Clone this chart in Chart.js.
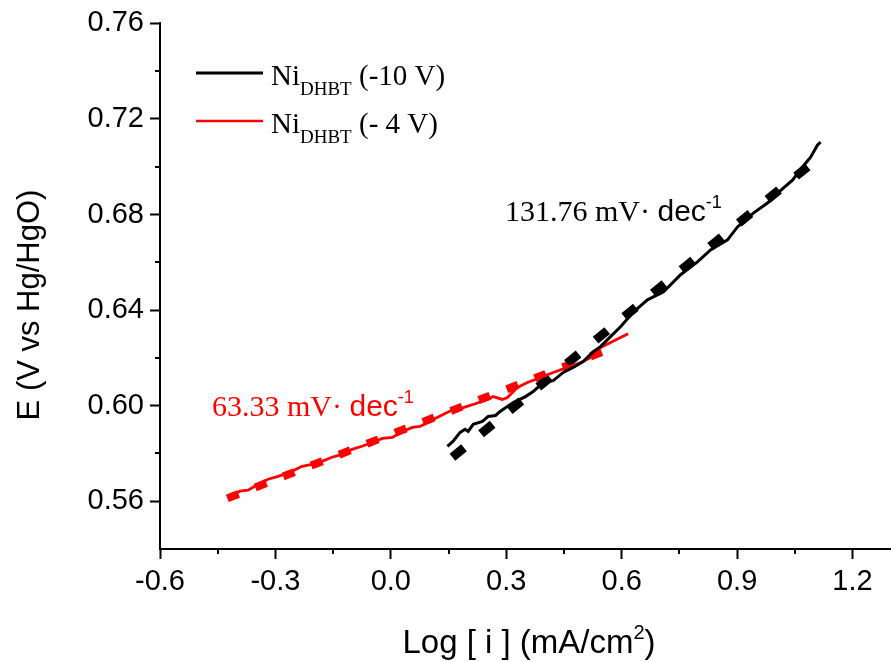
<!DOCTYPE html>
<html>
<head>
<meta charset="utf-8">
<script src="https://cdn.jsdelivr.net/npm/chart.js@4/dist/chart.umd.min.js"></script>
<style>
  html, body { margin: 0; padding: 0; background: #fff; }
  #wrap { width: 891px; height: 662px; }
</style>
</head>
<body>
<div id="wrap"><canvas id="tafel" width="891" height="662"></canvas></div>
<script>
// Ni DHBT (-10 V) polarisation curve
var blackLogI = [0.147, 0.162, 0.180, 0.193, 0.201, 0.214, 0.238, 0.253, 0.272, 0.284,
                 0.318, 0.350, 0.370, 0.396, 0.422, 0.448, 0.474, 0.500, 0.526, 0.545,
                 0.571, 0.597, 0.631, 0.667, 0.709, 0.753, 0.797, 0.831, 0.875, 0.901,
                 0.943, 0.979, 1.008, 1.044, 1.070, 1.091, 1.109, 1.117];
var blackE = [0.5830, 0.5851, 0.5888, 0.5901, 0.5892, 0.5922, 0.5934, 0.5955, 0.5959, 0.5976,
              0.6013, 0.6038, 0.6059, 0.6097, 0.6105, 0.6139, 0.6160, 0.6185, 0.6226, 0.6247,
              0.6289, 0.6330, 0.6393, 0.6443, 0.6477, 0.6548, 0.6602, 0.6652, 0.6694, 0.6748,
              0.6807, 0.6848, 0.6894, 0.6944, 0.6999, 0.7040, 0.7091, 0.7103];

// Ni DHBT (- 4 V)
var redLogI = [-0.418, -0.392, -0.371, -0.345, -0.319, -0.293, -0.257, -0.231, -0.205, -0.179,
               -0.153, -0.127, -0.101, -0.075, -0.048, -0.022, 0.004, 0.030, 0.056, 0.076,
               0.110, 0.136, 0.162, 0.188, 0.214, 0.251, 0.266, 0.290, 0.303, 0.329,
               0.355, 0.389, 0.422, 0.459, 0.493, 0.519, 0.545, 0.571, 0.597, 0.617];
var redE = [0.5621, 0.5642, 0.5646, 0.5671, 0.5692, 0.5704, 0.5725, 0.5746, 0.5754, 0.5767,
            0.5784, 0.5796, 0.5817, 0.5830, 0.5846, 0.5863, 0.5867, 0.5892, 0.5909, 0.5913,
            0.5942, 0.5963, 0.5984, 0.5992, 0.6005, 0.6026, 0.6038, 0.6026, 0.6034, 0.6076,
            0.6097, 0.6118, 0.6139, 0.6160, 0.6180, 0.6201, 0.6243, 0.6264, 0.6285, 0.6301];

// Tafel fit lines (end points)
var blackFitLogI = [0.160, 1.115];
var blackFitE = [0.5784, 0.7042];
var redFitLogI = [-0.425, 0.565];
var redFitE = [0.5612, 0.6235];

// axes
var xMin = -0.6, xMax = 1.3, xStep = 0.3;
var yMin = 0.54, yMax = 0.76, yStep = 0.04;
var xMinorTicks = [-0.45, -0.15, 0.15, 0.45, 0.75, 1.05];
var yMinorTicks = [0.58, 0.62, 0.66, 0.70, 0.74];

var legendNames = [['Ni', 'DHBT', ' (-10 V)'], ['Ni', 'DHBT', ' (- 4 V)']];
var slopeLabels = ['131.76', '63.33'];

function pts(xs, ys) {
    var out = [];
    for (var i = 0; i < xs.length; i++) out.push({ x: xs[i], y: ys[i] });
    return out;
}

var SERIF = "'Liberation Serif', 'Times New Roman', serif";
var SANS = "'Liberation Sans', Arial, sans-serif";

// draws a row of text pieces one after another, each with its own font and shift
function drawRuns(ctx, x, y, runs, color) {
    ctx.save();
    ctx.fillStyle = color;
    ctx.textBaseline = 'alphabetic';
    ctx.textAlign = 'left';
    runs.forEach(function (r) {
        ctx.font = r.font;
        ctx.fillText(r.text, x, y + (r.dy || 0));
        x += ctx.measureText(r.text).width;
    });
    ctx.restore();
}

function runsWidth(ctx, runs) {
    var w = 0;
    ctx.save();
    runs.forEach(function (r) { ctx.font = r.font; w += ctx.measureText(r.text).width; });
    ctx.restore();
    return w;
}

var extrasPlugin = {
    id: 'extras',
    afterDraw: function (chart) {
        var ctx = chart.ctx;
        var xs = chart.scales.x, ys = chart.scales.y;
        var area = chart.chartArea;

        // minor ticks
        ctx.save();
        ctx.strokeStyle = '#000';
        ctx.lineWidth = 2;
        ctx.beginPath();
        xMinorTicks.forEach(function (v) {
            var px = Math.round(xs.getPixelForValue(v));
            ctx.moveTo(px, area.bottom);
            ctx.lineTo(px, area.bottom + 5);
        });
        yMinorTicks.forEach(function (v) {
            var py = Math.round(ys.getPixelForValue(v));
            ctx.moveTo(area.left, py);
            ctx.lineTo(area.left - 5, py);
        });
        ctx.stroke();
        ctx.restore();

        // axis titles
        var xt = [
            { text: 'Log [ i ] (mA/cm', font: '33px ' + SANS },
            { text: '2', font: '20px ' + SANS, dy: -14 },
            { text: ')', font: '33px ' + SANS }
        ];
        drawRuns(ctx, 529 - runsWidth(ctx, xt) / 2, 653, xt, '#000');

        ctx.save();
        ctx.translate(39, 305);
        ctx.rotate(-Math.PI / 2);
        ctx.font = '31px ' + SANS;
        ctx.fillStyle = '#000';
        ctx.textAlign = 'center';
        ctx.textBaseline = 'alphabetic';
        ctx.fillText('E (V vs Hg/HgO)', 0, 0);
        ctx.restore();

        // legend
        var colors = ['#000', '#ff0000'];
        var widths = [3, 2.5];
        legendNames.forEach(function (n, i) {
            var ly = 73 + i * 48;
            ctx.save();
            ctx.strokeStyle = colors[i];
            ctx.lineWidth = widths[i];
            ctx.beginPath();
            ctx.moveTo(196, ly);
            ctx.lineTo(263, ly);
            ctx.stroke();
            ctx.restore();
            drawRuns(ctx, 271, ly + 12, [
                { text: n[0], font: '29px ' + SERIF },
                { text: n[1], font: '19px ' + SERIF, dy: 10 },
                { text: n[2], font: '29px ' + SERIF }
            ], '#000');
        });

        // slope labels
        drawRuns(ctx, 505, 221, [
            { text: slopeLabels[0] + ' mV\u00b7 ', font: '30px ' + SERIF },
            { text: 'dec', font: '30px ' + SANS },
            { text: '-1', font: '18px ' + SANS, dy: -13 }
        ], '#000');
        drawRuns(ctx, 212, 416, [
            { text: slopeLabels[1] + ' mV\u00b7 ', font: '30px ' + SERIF },
            { text: 'dec', font: '30px ' + SANS },
            { text: '-1', font: '18px ' + SANS, dy: -13 }
        ], '#ff0000');
    }
};

var ctx = document.getElementById('tafel').getContext('2d');
var chart = new Chart(ctx, {
    type: 'line',
    data: {
        datasets: [
            { data: pts(blackLogI, blackE), borderColor: '#000', borderWidth: 3, order: 1 },
            { data: pts(redLogI, redE), borderColor: '#ff0000', borderWidth: 2.8, order: 2 },
            { data: pts(blackFitLogI, blackFitE), borderColor: '#000', borderWidth: 9,
              borderDash: [15, 22], order: 3 },
            { data: pts(redFitLogI, redFitE), borderColor: '#ff0000', borderWidth: 8,
              borderDash: [12, 18], order: 4 }
        ]
    },
    options: {
        responsive: false,
        animation: false,
        devicePixelRatio: 1,
        layout: { padding: { top: 23, right: 0, left: 0, bottom: 0 } },
        elements: {
            point: { radius: 0, hoverRadius: 0 },
            line: { tension: 0, fill: false, borderCapStyle: 'butt' }
        },
        scales: {
            x: {
                type: 'linear',
                min: xMin,
                max: xMax,
                afterFit: function (s) { s.height = 113; },
                ticks: {
                    stepSize: xStep,
                    includeBounds: false,
                    color: '#000',
                    padding: 6,
                    maxRotation: 0,
                    autoSkip: false,
                    font: { family: SANS, size: 29 },
                    callback: function (v) { return Number(v).toFixed(1); }
                },
                grid: { drawOnChartArea: false, tickLength: 10, tickWidth: 2, tickColor: '#000' },
                border: { color: '#000', width: 2 }
            },
            y: {
                min: yMin,
                max: yMax,
                afterFit: function (s) { s.width = 160; },
                ticks: {
                    stepSize: yStep,
                    includeBounds: false,
                    color: '#000',
                    padding: 6,
                    font: { family: SANS, size: 29 },
                    callback: function (v) { return Number(v).toFixed(2); }
                },
                grid: { drawOnChartArea: false, tickLength: 10, tickWidth: 2, tickColor: '#000' },
                border: { color: '#000', width: 2 }
            }
        },
        plugins: {
            legend: { display: false },
            tooltip: { enabled: false }
        }
    },
    plugins: [extrasPlugin]
});
</script>
</body>
</html>
